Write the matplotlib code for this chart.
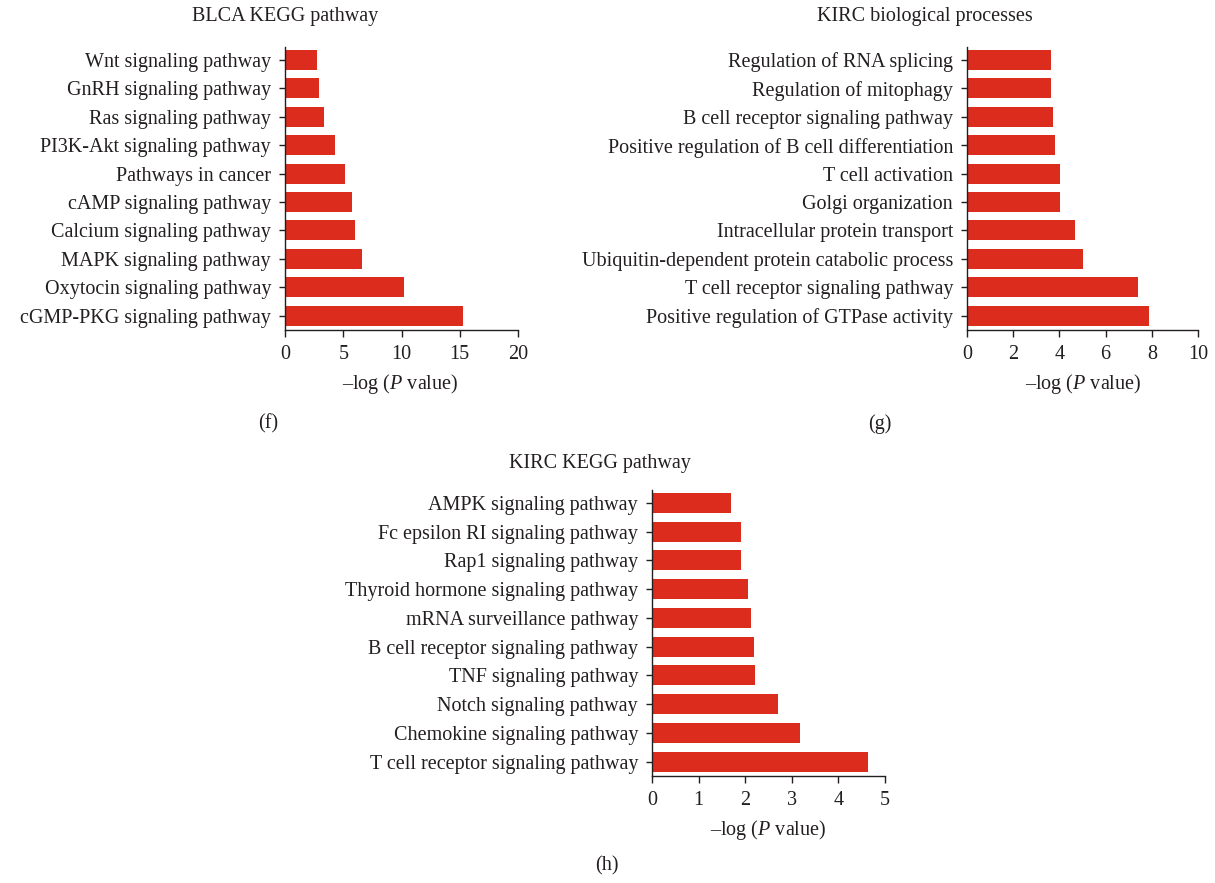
import matplotlib
matplotlib.use("Agg")
import matplotlib.pyplot as plt

plt.rcParams['font.family'] = ['Liberation Serif', 'DejaVu Serif']

blca_kegg = ["Wnt signaling pathway", "GnRH signaling pathway", "Ras signaling pathway",
             "PI3K-Akt signaling pathway", "Pathways in cancer", "cAMP signaling pathway",
             "Calcium signaling pathway", "MAPK signaling pathway", "Oxytocin signaling pathway",
             "cGMP-PKG signaling pathway"]
blca_vals = [2.72, 2.95, 3.38, 4.30, 5.16, 5.79, 5.99, 6.59, 10.23, 15.30]

kirc_bp = ["Regulation of RNA splicing", "Regulation of mitophagy",
           "B cell receptor signaling pathway", "Positive regulation of B cell differentiation",
           "T cell activation", "Golgi organization", "Intracellular protein transport",
           "Ubiquitin-dependent protein catabolic process", "T cell receptor signaling pathway",
           "Positive regulation of GTPase activity"]
kirc_bp_vals = [3.64, 3.64, 3.73, 3.79, 4.04, 4.04, 4.66, 5.01, 7.41, 7.90]

kirc_kegg = ["AMPK signaling pathway", "Fc epsilon RI signaling pathway", "Rap1 signaling pathway",
             "Thyroid hormone signaling pathway", "mRNA surveillance pathway",
             "B cell receptor signaling pathway", "TNF signaling pathway", "Notch signaling pathway",
             "Chemokine signaling pathway", "T cell receptor signaling pathway"]
kirc_kegg_vals = [1.69, 1.90, 1.90, 2.06, 2.13, 2.19, 2.20, 2.71, 3.18, 4.64]

W, H = 1215, 883
fig = plt.figure(figsize=(W / 100, H / 100), dpi=100)
bar_color = "#DC2C1E"
txt = "#231F20"
fs = 14.5

plt.rcParams['mathtext.fontset'] = 'custom'
plt.rcParams['mathtext.it'] = 'Liberation Serif:italic'
plt.rcParams['mathtext.rm'] = 'Liberation Serif'


def panel(box, names, vals, xmax, xticks, title, title_xy, xlabel_xy, tag, tag_xy):
    left, right, top, bottom = box
    ax = fig.add_axes([left / W, 1 - bottom / H, (right - left) / W, (bottom - top) / H])
    # bars listed top to bottom, so reverse for barh
    pos = list(range(len(names)))[::-1]
    ax.barh(pos, vals, height=0.7, color=bar_color)
    ax.set_xlim(0, xmax)
    ax.set_ylim(-0.5, len(names) - 0.55)
    ax.set_xticks(xticks)
    ax.set_yticks(pos)
    ax.set_yticklabels(names, fontsize=fs, color=txt)
    ax.tick_params(axis='x', labelsize=fs, length=5, width=1, direction='out', colors=txt, pad=6)
    ax.tick_params(axis='y', length=4, width=1, pad=6, colors=txt)
    for s in ['top', 'right']:
        ax.spines[s].set_visible(False)
    for s in ['left', 'bottom']:
        ax.spines[s].set_linewidth(1)
        ax.spines[s].set_color(txt)
    fig.text(title_xy[0] / W, 1 - title_xy[1] / H, title, ha='center', va='center', fontsize=fs, color=txt)
    fig.text(xlabel_xy[0] / W, 1 - xlabel_xy[1] / H, r"–log ($\it{P}$ value)", ha='center', va='center',
             fontsize=fs, color=txt)
    fig.text(tag_xy[0] / W, 1 - tag_xy[1] / H, tag, ha='center', va='center', fontsize=fs, color=txt)
    return ax


panel((285, 518, 47, 330), blca_kegg, blca_vals, 20, [0, 5, 10, 15, 20],
      "BLCA KEGG pathway", (285, 17), (400, 384), "(f)", (268, 424))
panel((967, 1198, 47, 330), kirc_bp, kirc_bp_vals, 10, [0, 2, 4, 6, 8, 10],
      "KIRC biological processes", (925, 17), (1083, 384), "(g)", (880, 424))
panel((652, 885, 490, 776), kirc_kegg, kirc_kegg_vals, 5, [0, 1, 2, 3, 4, 5],
      "KIRC KEGG pathway", (600, 463), (768, 830), "(h)", (607, 866))

fig.savefig("out.png", dpi=100)
